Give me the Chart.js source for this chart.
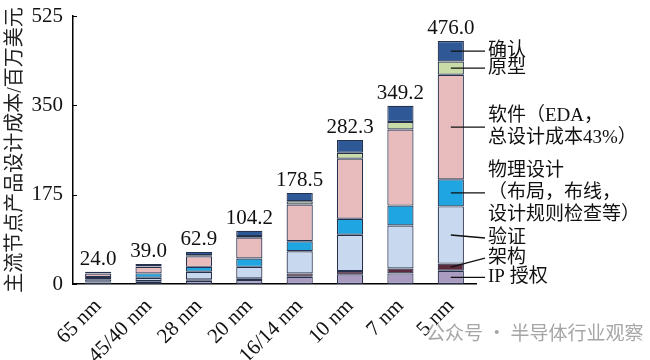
<!DOCTYPE html>
<html>
<head>
<meta charset="utf-8">
<script src="https://cdn.jsdelivr.net/npm/chart.js@4.4.1/dist/chart.umd.min.js"></script>
<style>
  body { margin: 0; background: #fff; }
</style>
</head>
<body>
<canvas id="costchart" width="650" height="360"></canvas>
<script>
// process nodes
var nodes = ["65 nm", "45/40 nm", "28 nm", "20 nm", "16/14 nm", "10 nm", "7 nm", "5 nm"];
var totals = [24.0, 39.0, 62.9, 104.2, 178.5, 282.3, 349.2, 476.0];

// cost split per node, bottom to top (million USD)
var ipLicense = [3, 4.3, 6.4, 7.8, 14.2, 18.9, 20.8, 26];
var architecture = [1.5, 1.5, 2.7, 3.3, 6.6, 6.4, 9.7, 14];
var verification = [5, 6.5, 14.8, 22.5, 43.4, 71.3, 84.2, 112];
var physicalDesign = [4, 8.5, 9.7, 16.4, 19.4, 31.1, 38.9, 53];
var software = [7, 12.8, 20.8, 40.8, 72, 117.9, 149.1, 205];
var prototype = [0.5, 1, 2, 3, 6.4, 11.6, 14.8, 26];
var validation = [3, 4.4, 6.5, 10.4, 16.5, 25.1, 31.7, 40];

var seriesNames = ["IP 授权", "架构", "验证", "物理设计", "软件", "原型", "确认"];
var noteLines = [
  ["IP 授权"],
  ["架构"],
  ["验证"],
  ["物理设计", "（布局，布线，", "设计规则检查等）"],
  ["软件（EDA，", "总设计成本43%）"],
  ["原型"],
  ["确认"]
];
var yTicks = [0, 175, 350, 525];

var colors = ["#a99cc0", "#5b2a3c", "#c8d8ef", "#1fa6e2", "#e8bcbc", "#c9dca8", "#2f5896"];
var serif = "'Liberation Serif', 'Noto Sans CJK SC', serif";

var allSeries = [ipLicense, architecture, verification, physicalDesign, software, prototype, validation];
var datasets = allSeries.map(function (vals, i) {
  return {
    label: seriesNames[i],
    data: vals,
    backgroundColor: colors[i],
    borderColor: "#26314d",
    borderWidth: 1.2,
    borderSkipped: false,
    categoryPercentage: 1.0,
    barPercentage: 0.52
  };
});

// small helper plugin: inward ticks, totals on top, notes next to the 5 nm bar
var extras = {
  id: "extras",
  afterDraw: function (chart) {
    var ctx = chart.ctx;
    var area = chart.chartArea;
    var ys = chart.scales.y;
    ctx.save();

    // ticks pointing into the plot
    ctx.strokeStyle = "#000";
    ctx.lineWidth = 1;
    yTicks.forEach(function (v) {
      var py = Math.round(ys.getPixelForValue(v)) + 0.5;
      ctx.beginPath();
      ctx.moveTo(area.left, py);
      ctx.lineTo(area.left + 4, py);
      ctx.stroke();
    });

    // totals above each bar
    var topMeta = chart.getDatasetMeta(datasets.length - 1);
    ctx.fillStyle = "#111";
    ctx.font = "21px " + serif;
    ctx.textAlign = "center";
    ctx.textBaseline = "bottom";
    topMeta.data.forEach(function (bar, i) {
      ctx.fillText(totals[i].toFixed(1), bar.x, bar.y - 2);
    });

    // notes for the last bar
    var last = nodes.length - 1;
    var lineEndX = area.right + 9;
    ctx.font = "19px " + serif;
    ctx.textAlign = "left";
    ctx.textBaseline = "middle";
    var lift = [0, -9, 3, 0, 0, 0, 0];
    datasets.forEach(function (ds, i) {
      var bar = chart.getDatasetMeta(i).data[last];
      var midY = (bar.y + bar.base) / 2;
      var endY = midY + lift[i];
      ctx.strokeStyle = "#111";
      ctx.lineWidth = 1.3;
      ctx.beginPath();
      ctx.moveTo(bar.x, midY);
      ctx.lineTo(lineEndX, endY);
      ctx.stroke();
      var lines = noteLines[i];
      var lh = 22;
      var y0 = endY - (lines.length - 1) * lh / 2;
      lines.forEach(function (t, k) {
        ctx.fillText(t, lineEndX + 3, y0 + k * lh);
      });
    });

    // watermark
    ctx.fillStyle = "#a6a6a6";
    ctx.font = "19px 'Noto Sans CJK SC', sans-serif";
    ctx.fillText("公众号 · 半导体行业观察", 426, 333);
    ctx.restore();
  }
};

new Chart(document.getElementById("costchart").getContext("2d"), {
  type: "bar",
  data: { labels: nodes, datasets: datasets },
  options: {
    responsive: false,
    animation: false,
    layout: { padding: { left: 0, right: 174, top: 16, bottom: 0 } },
    plugins: {
      legend: { display: false },
      tooltip: { enabled: false }
    },
    scales: {
      x: {
        stacked: true,
        grid: { display: false },
        border: { display: true, color: "#000", width: 1.5 },
        ticks: {
          color: "#111",
          font: { family: serif, size: 21 },
          minRotation: 45,
          maxRotation: 45,
          padding: 2
        },
        afterFit: function (scale) {
          scale.height = 76;
          scale.paddingLeft = 0;
          scale.paddingRight = 0;
        }
      },
      y: {
        stacked: true,
        min: 0,
        max: 525,
        afterBuildTicks: function (scale) {
          scale.ticks = yTicks.map(function (v) { return { value: v }; });
        },
        grid: { display: false, drawTicks: false },
        border: { display: true, color: "#000", width: 1.5 },
        ticks: {
          color: "#111",
          font: { family: serif, size: 21 },
          padding: 10
        },
        title: {
          display: true,
          text: "主流节点产品设计成本/百万美元",
          color: "#222",
          font: { family: serif, size: 20 },
          padding: { top: 4, bottom: 0 }
        },
        afterFit: function (scale) {
          scale.width = 73;
          scale.paddingTop = 0;
          scale.paddingBottom = 0;
        }
      }
    }
  },
  plugins: [extras]
});
</script>
</body>
</html>
